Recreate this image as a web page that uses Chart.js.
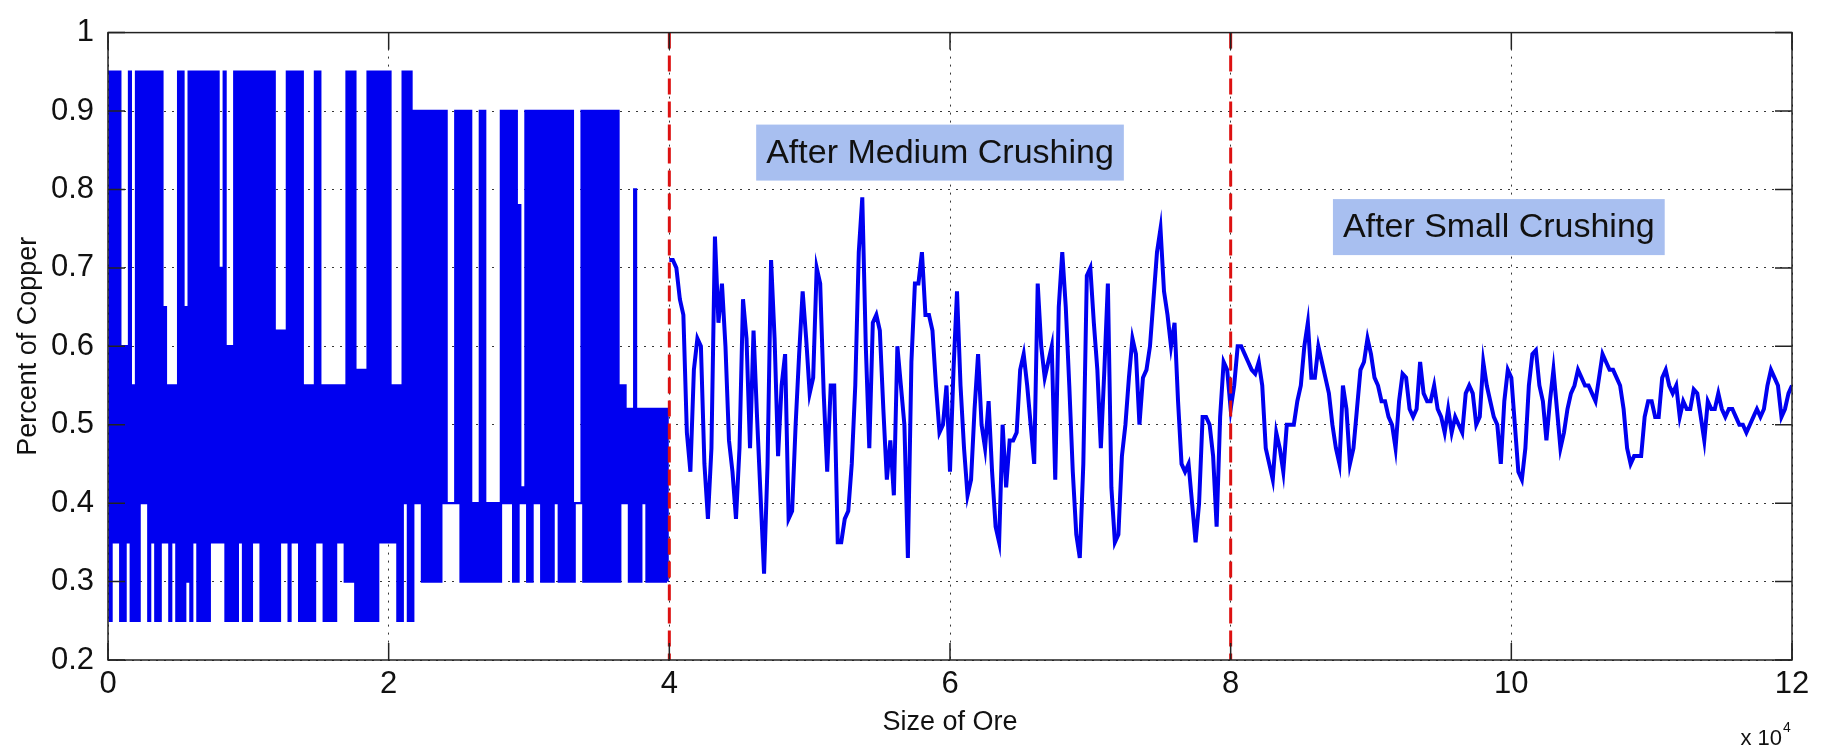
<!DOCTYPE html>
<html>
<head>
<meta charset="utf-8">
<script src="https://cdn.jsdelivr.net/npm/chart.js@4.4.0/dist/chart.umd.min.js"></script>
<style>
  html, body { margin: 0; padding: 0; background: #fff; }
  #wrap { width: 1823px; height: 749px; }
</style>
</head>
<body>
<div id="wrap"><canvas id="chart" width="1823" height="749"></canvas></div>
<script>
// axis ticks (x in units of 10^4)
var xTickValues = [0, 20000, 40000, 60000, 80000, 100000, 120000];
var xTickLabels = ['0', '2', '4', '6', '8', '10', '12'];
var yTickValues = [0.2, 0.3, 0.4, 0.5, 0.6, 0.7, 0.8, 0.9, 1];
var yTickLabels = ['0.2', '0.3', '0.4', '0.5', '0.6', '0.7', '0.8', '0.9', '1'];

// crushing stages
var stageBounds = [40000, 80000];
var stageLabels = ['After Medium Crushing', 'After Small Crushing'];
var stageLabelX = [46900, 88000];
var stageLabelY = [0.847, 0.752];

// coarse ore (0 - 40000): per 250-unit block the signal flips between a high and a low level
var coarseStep = 250;
var coarseHi = [
  0.95, 0.95, 0.95, 0.95, 0.6, 0.6, 0.95, 0.55, 0.95, 0.95,
  0.95, 0.95, 0.95, 0.95, 0.95, 0.95, 0.65, 0.55, 0.55, 0.55,
  0.95, 0.95, 0.65, 0.95, 0.95, 0.95, 0.95, 0.95, 0.95, 0.95,
  0.95, 0.95, 0.7, 0.95, 0.6, 0.6, 0.95, 0.95, 0.95, 0.95,
  0.95, 0.95, 0.95, 0.95, 0.95, 0.95, 0.95, 0.95, 0.62, 0.62,
  0.62, 0.95, 0.95, 0.95, 0.95, 0.95, 0.55, 0.55, 0.55, 0.95,
  0.95, 0.55, 0.55, 0.55, 0.55, 0.55, 0.55, 0.55, 0.95, 0.95,
  0.95, 0.57, 0.57, 0.57, 0.95, 0.95, 0.95, 0.95, 0.95, 0.95,
  0.95, 0.55, 0.55, 0.55, 0.95, 0.95, 0.95, 0.9, 0.9, 0.9,
  0.9, 0.9, 0.9, 0.9, 0.9, 0.9, 0.9, 0.4, 0.4, 0.9,
  0.9, 0.9, 0.9, 0.9, 0.4, 0.4, 0.9, 0.9, 0.4, 0.4,
  0.4, 0.4, 0.9, 0.9, 0.9, 0.9, 0.9, 0.78, 0.42, 0.9,
  0.9, 0.9, 0.9, 0.9, 0.9, 0.9, 0.9, 0.9, 0.9, 0.9,
  0.9, 0.9, 0.9, 0.4, 0.4, 0.9, 0.9, 0.9, 0.9, 0.9,
  0.9, 0.9, 0.9, 0.9, 0.9, 0.9, 0.55, 0.55, 0.52, 0.52,
  0.8, 0.52, 0.52, 0.52, 0.52, 0.52, 0.52, 0.52, 0.52, 0.52
];
var coarseLo = [
  0.25, 0.35, 0.35, 0.25, 0.25, 0.35, 0.25, 0.25, 0.25, 0.4,
  0.4, 0.25, 0.35, 0.25, 0.25, 0.35, 0.35, 0.25, 0.35, 0.25,
  0.25, 0.25, 0.3, 0.25, 0.35, 0.25, 0.25, 0.25, 0.25, 0.35,
  0.35, 0.35, 0.35, 0.25, 0.25, 0.25, 0.25, 0.35, 0.25, 0.25,
  0.25, 0.35, 0.35, 0.25, 0.25, 0.25, 0.25, 0.25, 0.25, 0.35,
  0.35, 0.25, 0.35, 0.35, 0.25, 0.25, 0.25, 0.25, 0.25, 0.35,
  0.35, 0.25, 0.25, 0.25, 0.25, 0.35, 0.35, 0.3, 0.3, 0.3,
  0.25, 0.25, 0.25, 0.25, 0.25, 0.25, 0.25, 0.35, 0.35, 0.35,
  0.35, 0.35, 0.25, 0.25, 0.4, 0.25, 0.25, 0.4, 0.4, 0.3,
  0.3, 0.3, 0.3, 0.3, 0.3, 0.4, 0.4, 0.4, 0.4, 0.4,
  0.3, 0.3, 0.3, 0.3, 0.3, 0.3, 0.3, 0.3, 0.3, 0.3,
  0.3, 0.3, 0.4, 0.4, 0.4, 0.3, 0.3, 0.4, 0.4, 0.3,
  0.3, 0.4, 0.4, 0.3, 0.3, 0.3, 0.3, 0.4, 0.3, 0.3,
  0.3, 0.3, 0.3, 0.4, 0.4, 0.3, 0.3, 0.3, 0.3, 0.3,
  0.3, 0.3, 0.3, 0.3, 0.3, 0.3, 0.4, 0.4, 0.3, 0.3,
  0.3, 0.3, 0.4, 0.3, 0.3, 0.3, 0.3, 0.3, 0.3, 0.3
];

// medium crushing (40000 - 80000) and small crushing (80000 - 120000), one value per 250 units
var sampleStep = 250;
var mediumStart = 40000;
var mediumY = [
  0.71, 0.71, 0.70, 0.66, 0.64, 0.49, 0.44, 0.57, 0.61, 0.60,
  0.45, 0.38, 0.47, 0.74, 0.63, 0.68, 0.60, 0.48, 0.44, 0.38,
  0.47, 0.66, 0.61, 0.47, 0.62, 0.51, 0.41, 0.31, 0.45, 0.71,
  0.61, 0.46, 0.55, 0.59, 0.38, 0.39, 0.50, 0.59, 0.67, 0.61,
  0.54, 0.56, 0.70, 0.68, 0.54, 0.44, 0.55, 0.55, 0.35, 0.35,
  0.38, 0.39, 0.45, 0.55, 0.72, 0.79, 0.60, 0.47, 0.63, 0.64,
  0.62, 0.52, 0.43, 0.48, 0.41, 0.60, 0.55, 0.50, 0.33, 0.58,
  0.68, 0.68, 0.72, 0.64, 0.64, 0.62, 0.55, 0.49, 0.50, 0.55,
  0.44, 0.57, 0.67, 0.55, 0.47, 0.41, 0.43, 0.52, 0.59, 0.50,
  0.47, 0.53, 0.44, 0.37, 0.35, 0.50, 0.42, 0.48, 0.48, 0.49,
  0.57, 0.59, 0.55, 0.50, 0.45, 0.68, 0.60, 0.56, 0.58, 0.60,
  0.43, 0.65, 0.72, 0.65, 0.55, 0.44, 0.36, 0.33, 0.45, 0.69,
  0.70, 0.63, 0.57, 0.47, 0.57, 0.68, 0.42, 0.35, 0.36, 0.46,
  0.50, 0.56, 0.61, 0.59, 0.50, 0.56, 0.57, 0.60, 0.66, 0.72,
  0.75, 0.67, 0.64, 0.60, 0.63, 0.53, 0.45, 0.44, 0.45, 0.40,
  0.35, 0.40, 0.51, 0.51, 0.50, 0.46, 0.37, 0.51, 0.58, 0.57
];
var smallStart = 80000;
var smallY = [
  0.52, 0.55, 0.60, 0.60, 0.59, 0.58, 0.57, 0.565, 0.58, 0.55,
  0.47, 0.45, 0.43, 0.49, 0.47, 0.44, 0.50, 0.50, 0.50, 0.53,
  0.55, 0.60, 0.63, 0.56, 0.56, 0.60, 0.58, 0.56, 0.54, 0.50,
  0.47, 0.45, 0.55, 0.52, 0.45, 0.47, 0.52, 0.57, 0.58, 0.61,
  0.59, 0.56, 0.55, 0.53, 0.53, 0.51, 0.50, 0.47, 0.53, 0.565,
  0.56, 0.52, 0.51, 0.52, 0.58, 0.54, 0.53, 0.53, 0.55, 0.52,
  0.51, 0.49, 0.52, 0.49, 0.51, 0.50, 0.49, 0.54, 0.55, 0.54,
  0.50, 0.51, 0.58, 0.55, 0.53, 0.51, 0.50, 0.45, 0.53, 0.57,
  0.56, 0.50, 0.44, 0.43, 0.47, 0.55, 0.59, 0.595, 0.55, 0.53,
  0.48, 0.53, 0.57, 0.52, 0.47, 0.49, 0.52, 0.54, 0.55, 0.57,
  0.56, 0.55, 0.55, 0.54, 0.53, 0.56, 0.59, 0.58, 0.57, 0.57,
  0.56, 0.55, 0.52, 0.47, 0.45, 0.46, 0.46, 0.46, 0.51, 0.53,
  0.53, 0.51, 0.51, 0.56, 0.57, 0.55, 0.54, 0.55, 0.51, 0.53,
  0.52, 0.52, 0.545, 0.54, 0.51, 0.48, 0.53, 0.52, 0.52, 0.54,
  0.52, 0.51, 0.52, 0.52, 0.51, 0.50, 0.50, 0.49, 0.50, 0.51,
  0.52, 0.51, 0.52, 0.55, 0.57, 0.56, 0.55, 0.51, 0.52, 0.54,
  0.55
];

var FONT = '"Liberation Sans", Arial, Helvetica, sans-serif';
var BLUE = '#0000f0';

var coarsePoints = [];
coarseHi.forEach(function(hi, i) {
  coarsePoints.push({x: i * coarseStep, y: hi});
  coarsePoints.push({x: i * coarseStep + coarseStep / 2, y: coarseLo[i]});
});

var finePoints = [];
mediumY.forEach(function(v, i) {
  finePoints.push({x: mediumStart + i * sampleStep, y: v});
});
smallY.forEach(function(v, i) {
  finePoints.push({x: smallStart + i * sampleStep, y: v});
});

// stage markers, labels, axes box and inward ticks (MATLAB look)
var overlay = {
  id: 'overlay',
  afterDatasetsDraw: function(chart) {
    var ctx = chart.ctx, area = chart.chartArea;
    var xs = chart.scales.x, ys = chart.scales.y;
    ctx.save();

    ctx.strokeStyle = '#dd1111';
    ctx.lineWidth = 3;
    ctx.setLineDash([16, 7]);
    stageBounds.forEach(function(v) {
      var px = xs.getPixelForValue(v);
      ctx.beginPath();
      ctx.moveTo(px, area.top);
      ctx.lineTo(px, area.bottom);
      ctx.stroke();
    });
    ctx.setLineDash([]);

    ctx.font = '34px ' + FONT;
    ctx.textBaseline = 'middle';
    ctx.textAlign = 'left';
    stageLabels.forEach(function(t, i) {
      var px = xs.getPixelForValue(stageLabelX[i]);
      var py = ys.getPixelForValue(stageLabelY[i]);
      var w = ctx.measureText(t).width;
      ctx.fillStyle = '#a8bff0';
      ctx.fillRect(px - 10, py - 28, w + 20, 56);
      ctx.fillStyle = '#111';
      ctx.fillText(t, px, py + 1);
    });

    ctx.strokeStyle = '#222';
    ctx.lineWidth = 1.5;
    ctx.strokeRect(area.left, area.top, area.right - area.left, area.bottom - area.top);
    ctx.beginPath();
    xTickValues.forEach(function(v) {
      var px = xs.getPixelForValue(v);
      ctx.moveTo(px, area.bottom); ctx.lineTo(px, area.bottom - 17);
      ctx.moveTo(px, area.top); ctx.lineTo(px, area.top + 17);
    });
    yTickValues.forEach(function(v) {
      var py = ys.getPixelForValue(v);
      ctx.moveTo(area.left, py); ctx.lineTo(area.left + 17, py);
      ctx.moveTo(area.right, py); ctx.lineTo(area.right - 17, py);
    });
    ctx.stroke();

    // exponent note under the x axis
    ctx.fillStyle = '#111';
    ctx.textBaseline = 'alphabetic';
    ctx.textAlign = 'left';
    ctx.font = '22px ' + FONT;
    var base = 'x 10';
    var bw = ctx.measureText(base).width;
    var bx = area.right - bw - 10;
    ctx.fillText(base, bx, 745);
    ctx.font = '14px ' + FONT;
    ctx.fillText('4', bx + bw + 1, 732);

    ctx.restore();
  }
};

var gridLook = {
  color: 'rgba(20,20,20,0.85)',
  lineWidth: 1,
  drawTicks: false
};

new Chart(document.getElementById('chart'), {
  type: 'line',
  data: {
    datasets: [{
      data: coarsePoints,
      borderColor: BLUE,
      borderWidth: 2.4,
      stepped: true,
      pointRadius: 0,
      fill: false
    }, {
      data: finePoints,
      borderColor: BLUE,
      borderWidth: 4,
      tension: 0,
      pointRadius: 0,
      fill: false
    }]
  },
  options: {
    responsive: false,
    devicePixelRatio: 1,
    animation: false,
    layout: { padding: { left: 0, right: 31, top: 22, bottom: 0 } },
    plugins: { legend: { display: false }, tooltip: { enabled: false } },
    scales: {
      x: {
        type: 'linear',
        min: 0,
        max: 120000,
        afterBuildTicks: function(scale) {
          scale.ticks = xTickValues.map(function(v) { return {value: v}; });
        },
        afterFit: function(scale) { scale.height = 89; },
        border: { display: false, dash: [2, 6] },
        grid: gridLook,
        ticks: {
          padding: 6,
          color: '#111',
          font: { family: FONT, size: 31 },
          maxRotation: 0,
          callback: function(v, i) { return xTickLabels[i]; }
        },
        title: {
          display: true,
          text: 'Size of Ore',
          color: '#111',
          font: { family: FONT, size: 27 },
          padding: { top: 0, bottom: 10 }
        }
      },
      y: {
        min: 0.2,
        max: 1,
        afterBuildTicks: function(scale) {
          scale.ticks = yTickValues.map(function(v) { return {value: v}; });
        },
        afterFit: function(scale) { scale.width = 108; },
        border: { display: false, dash: [2, 6] },
        grid: gridLook,
        ticks: {
          padding: 14,
          color: '#111',
          font: { family: FONT, size: 31 },
          callback: function(v, i) { return yTickLabels[i]; }
        },
        title: {
          display: true,
          text: 'Percent of Copper',
          color: '#111',
          font: { family: FONT, size: 27 },
          padding: { top: 12, bottom: 0 }
        }
      }
    }
  },
  plugins: [overlay]
});
</script>
</body>
</html>
